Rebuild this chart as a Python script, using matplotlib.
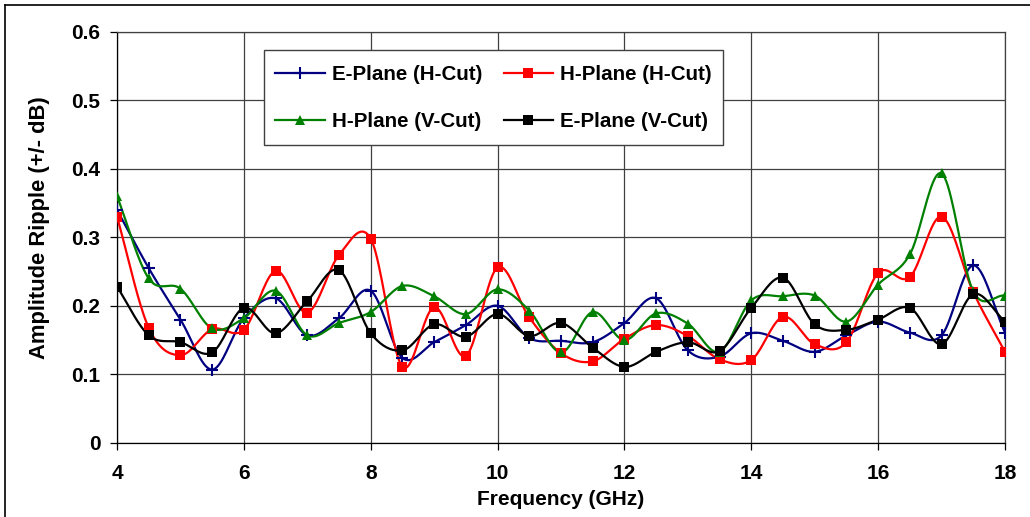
import numpy as np
import matplotlib
matplotlib.use("Agg")
import matplotlib.pyplot as plt
from matplotlib.lines import Line2D
from matplotlib.patches import Rectangle

freq = [4, 4.5, 5, 5.5, 6, 6.5, 7, 7.5, 8, 8.5, 9, 9.5, 10, 10.5, 11, 11.5,
        12, 12.5, 13, 13.5, 14, 14.5, 15, 15.5, 16, 16.5, 17, 17.5, 18]

e_plane_h = [0.340, 0.255, 0.180, 0.107, 0.182, 0.211, 0.157, 0.182, 0.222, 0.124,
             0.147, 0.172, 0.200, 0.153, 0.149, 0.147, 0.175, 0.211, 0.135, 0.126,
             0.160, 0.149, 0.133, 0.157, 0.177, 0.161, 0.157, 0.259, 0.161]
h_plane_h = [0.330, 0.168, 0.128, 0.166, 0.165, 0.251, 0.190, 0.274, 0.298, 0.111,
             0.198, 0.127, 0.256, 0.183, 0.131, 0.119, 0.152, 0.172, 0.156, 0.122,
             0.121, 0.184, 0.144, 0.147, 0.248, 0.242, 0.330, 0.220, 0.133]
h_plane_v = [0.360, 0.240, 0.225, 0.167, 0.182, 0.222, 0.157, 0.175, 0.191, 0.229,
             0.214, 0.188, 0.224, 0.193, 0.132, 0.191, 0.150, 0.189, 0.174, 0.133,
             0.208, 0.214, 0.215, 0.177, 0.231, 0.275, 0.393, 0.221, 0.215]
e_plane_v = [0.228, 0.157, 0.147, 0.132, 0.197, 0.160, 0.207, 0.252, 0.160, 0.135,
             0.173, 0.155, 0.188, 0.156, 0.175, 0.139, 0.111, 0.133, 0.147, 0.134,
             0.197, 0.241, 0.173, 0.165, 0.180, 0.197, 0.144, 0.217, 0.177]

labels = ["E-Plane (H-Cut)", "H-Plane (H-Cut)", "H-Plane (V-Cut)", "E-Plane (V-Cut)"]


def smooth(x, y, n=20):
    # Catmull-Rom spline through the points (like Excel's smoothed line)
    x = np.asarray(x, float)
    y = np.asarray(y, float)
    px = np.concatenate([[2 * x[0] - x[1]], x, [2 * x[-1] - x[-2]]])
    py = np.concatenate([[2 * y[0] - y[1]], y, [2 * y[-1] - y[-2]]])
    t = np.linspace(0, 1, n, endpoint=False)
    xs, ys = [], []
    for i in range(1, len(px) - 2):
        for p, out in ((px, xs), (py, ys)):
            p0, p1, p2, p3 = p[i - 1], p[i], p[i + 1], p[i + 2]
            out.extend(0.5 * (2 * p1 + (-p0 + p2) * t
                              + (2 * p0 - 5 * p1 + 4 * p2 - p3) * t ** 2
                              + (-p0 + 3 * p1 - 3 * p2 + p3) * t ** 3))
    xs.append(x[-1])
    ys.append(y[-1])
    return xs, ys


plt.rcParams['font.family'] = ['Liberation Sans', 'DejaVu Sans']
plt.rcParams['font.weight'] = 'bold'

fig = plt.figure(figsize=(10.30, 5.17), dpi=100)
ax = fig.add_axes([117 / 1030, 1 - 443 / 517, 888 / 1030, 411.5 / 517])

series = [
    (e_plane_h, '#000080', '+', 8, 1.5),
    (h_plane_h, '#ff0000', 's', 6.5, 0),
    (h_plane_v, '#008000', '^', 7, 0),
    (e_plane_v, '#000000', 's', 7.5, 0),
]
handles = []
for (vals, col, mk, ms, mew), lab in zip(series, labels):
    sx, sy = smooth(freq, vals)
    ax.plot(sx, sy, color=col, lw=1.6, zorder=3)
    ax.plot(freq, vals, ls='none', marker=mk, ms=ms, color=col,
            mew=mew, zorder=4)
    handles.append(Line2D([], [], color=col, lw=1.6, marker=mk, ms=ms, mew=mew))

ax.set_xlim(4, 18)
ax.set_ylim(0, 0.6)
ax.set_xticks(range(4, 19, 2))
ax.set_yticks([0, 0.1, 0.2, 0.3, 0.4, 0.5, 0.6])
ax.set_yticklabels(["0", "0.1", "0.2", "0.3", "0.4", "0.5", "0.6"])
ax.grid(True, color='#404040', lw=0.9)
ax.set_axisbelow(True)
for s in ax.spines.values():
    s.set_color('#404040')
    s.set_linewidth(0.9)
ax.spines['left'].set_color('black')
ax.spines['bottom'].set_color('black')
ax.tick_params(direction='out', length=5, width=0.9, labelsize=15)
ax.tick_params(axis='x', pad=10)
ax.tick_params(axis='y', pad=7)
for lb in ax.get_xticklabels() + ax.get_yticklabels():
    lb.set_fontweight('bold')

ax.set_xlabel("Frequency (GHz)", fontsize=15, fontweight='bold', labelpad=5.5)
ax.set_ylabel("Amplitude Ripple (+/- dB)", fontsize=15.8, fontweight='bold')
ax.yaxis.set_label_coords(-0.076, 0.524)

# legend frame drawn separately so its padding can match the reference
ax.add_patch(Rectangle((0.1655, 0.7242), 0.5169, 0.2308, transform=ax.transAxes,
                       facecolor='white', edgecolor='#404040', lw=1.0, zorder=5))

# row-wise order in the legend
order = [0, 2, 1, 3]
leg = ax.legend([handles[i] for i in order], [labels[i] for i in order],
                ncol=2, loc='upper left',
                bbox_to_anchor=(0.1655, 0.946), fontsize=14.8, frameon=False,
                handlelength=2.4, handletextpad=0.35, columnspacing=1.05,
                labelspacing=1.35, borderpad=0.55, borderaxespad=0)
leg.set_zorder(6)
for t in leg.get_texts():
    t.set_fontweight('bold')

# outer chart frame (cut off at right and bottom in the reference)
fig.add_artist(Line2D([5 / 1030, 1], [1 - 5 / 517, 1 - 5 / 517],
                      color='black', lw=1.2, transform=fig.transFigure))
fig.add_artist(Line2D([5 / 1030, 5 / 1030], [0, 1 - 5 / 517],
                      color='black', lw=1.2, transform=fig.transFigure))

fig.savefig("out.png", dpi=100)
